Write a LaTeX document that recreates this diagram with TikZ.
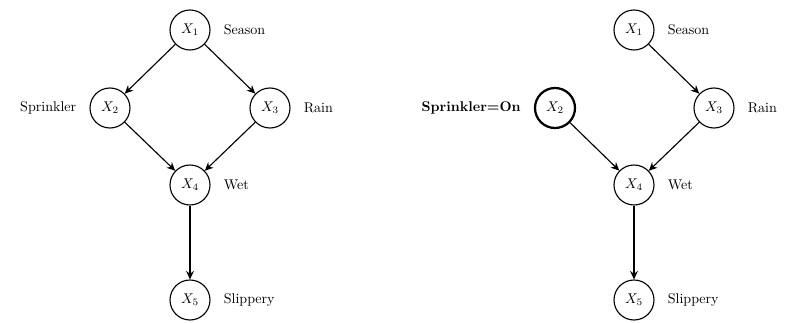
\documentclass[tikz,border=0pt]{standalone}
\usepackage{amsmath}
\usepackage{amssymb}
\usetikzlibrary{positioning,arrows.meta}

\begin{document}
\begin{tikzpicture}[thick,>={Stealth[length=6pt,width=5.5pt,inset=2pt]},
    var/.style={draw,circle,minimum size=1cm,inner sep=0pt},
    obs/.style={var,line width=1.6pt},
    lab/.style={font=\normalsize}]
            \useasboundingbox (0,0) rectangle (19.625,-8.05);
            % left graph
            \node[var,label={[lab,label distance=0.2cm]right:Season}] (a1) at (4.75,-0.75) {$X_1$};
            \node[var,label={[lab,label distance=0.2cm]left:Sprinkler}] (a2) at (2.75,-2.7) {$X_2$};
            \node[var,label={[lab,label distance=0.2cm]right:Rain}] (a3) at (6.75,-2.7) {$X_3$};
            \node[var,label={[lab,label distance=0.2cm]right:Wet}] (a4) at (4.75,-4.625) {$X_4$};
            \node[var,label={[lab,label distance=0.2cm]right:Slippery}] (a5) at (4.75,-7.5) {$X_5$};
            \draw[->] (a1)--(a2);
            \draw[->] (a1)--(a3);
            \draw[->] (a2)--(a4);
            \draw[->] (a3)--(a4);
            \draw[->] (a4)--(a5);
            % right graph, sprinkler set
            \node[var,label={[lab,label distance=0.2cm]right:Season}] (b1) at (15.85,-0.75) {$X_1$};
            \node[obs,label={[lab,label distance=0.2cm]left:\textbf{Sprinkler=On}}] (b2) at (13.875,-2.7) {$X_2$};
            \node[var,label={[lab,label distance=0.2cm]right:Rain}] (b3) at (17.85,-2.7) {$X_3$};
            \node[var,label={[lab,label distance=0.2cm]right:Wet}] (b4) at (15.85,-4.625) {$X_4$};
            \node[var,label={[lab,label distance=0.2cm]right:Slippery}] (b5) at (15.85,-7.5) {$X_5$};
            \draw[->] (b1)--(b3);
            \draw[->] (b2)--(b4);
            \draw[->] (b3)--(b4);
            \draw[->] (b4)--(b5);
\end{tikzpicture}
\end{document}
